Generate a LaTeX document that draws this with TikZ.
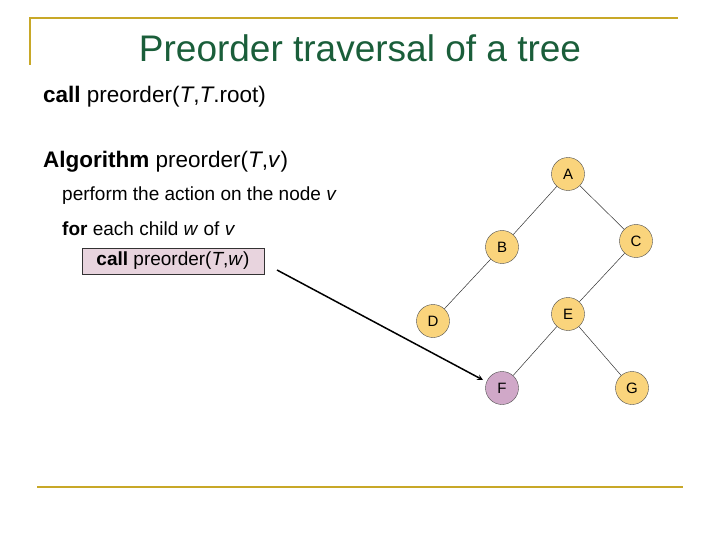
\documentclass[tikz,border=0pt]{standalone}
\usepackage{fontspec}
\setmainfont{Liberation Sans}
\definecolor{gold}{HTML}{C8A828}
\definecolor{ttl}{HTML}{1A5E3A}
\definecolor{nodey}{HTML}{FAD47C}
\definecolor{nodep}{HTML}{D0A8C8}
\definecolor{boxp}{HTML}{E8D4DE}
\begin{document}
\begin{tikzpicture}[x=1pt,y=-1pt,
  tn/.style={circle,draw=black!70,fill=nodey,minimum size=33pt,inner sep=0pt,font=\fontsize{15}{15}\selectfont},
  txt/.style={anchor=west,inner sep=0pt},
  edge/.style={draw=black!80,line width=0.5pt}]
\useasboundingbox (0,0) rectangle (720,540);
\draw[gold,line width=2pt] (30,65) -- (30,18) -- (678,18);
\draw[gold,line width=2pt] (37,487) -- (683,487);
\node[ttl,font=\fontsize{37}{37}\selectfont] (title) at (360,48) {Preorder traversal of a tree};
\node[txt,font=\fontsize{22.5}{22}\selectfont] (c1) at (43,97) {\textbf{call} preorder(\textit{T},\textit{T}.root)};
\node[txt,font=\fontsize{22.5}{22}\selectfont] (alg) at (43,162) {\textbf{Algorithm} preorder(\textit{T},\textit{v})};
\node[txt,font=\fontsize{19}{19}\selectfont] (perf) at (62,196) {perform the action on the node \textit{v}};
\node[txt,font=\fontsize{19}{19}\selectfont] (for) at (62,229) {\textbf{for} each child \textit{w} of \textit{v}};
\node[draw=black!80,fill=boxp,minimum width=182pt,minimum height=26pt,inner sep=0pt,font=\fontsize{19}{19}\selectfont] (call) at (173,261) {\textbf{call} preorder(\textit{T},\textit{w})};
\node[tn] (A) at (568,174) {A};
\node[tn] (B) at (502,247) {B};
\node[tn] (C) at (636,241) {C};
\node[tn] (D) at (433,321) {D};
\node[tn] (E) at (568,314) {E};
\node[tn,fill=nodep] (F) at (502,388) {F};
\node[tn] (G) at (632,388) {G};
\draw[edge] (A) -- (B); \draw[edge] (A) -- (C);
\draw[edge] (B) -- (D); \draw[edge] (C) -- (E);
\draw[edge] (E) -- (F); \draw[edge] (E) -- (G);
\coordinate (s) at (277,270);
\coordinate (t) at (483,380);
\draw[line width=1.5pt,-stealth] (s) -- (t);
\end{tikzpicture}
\end{document}
